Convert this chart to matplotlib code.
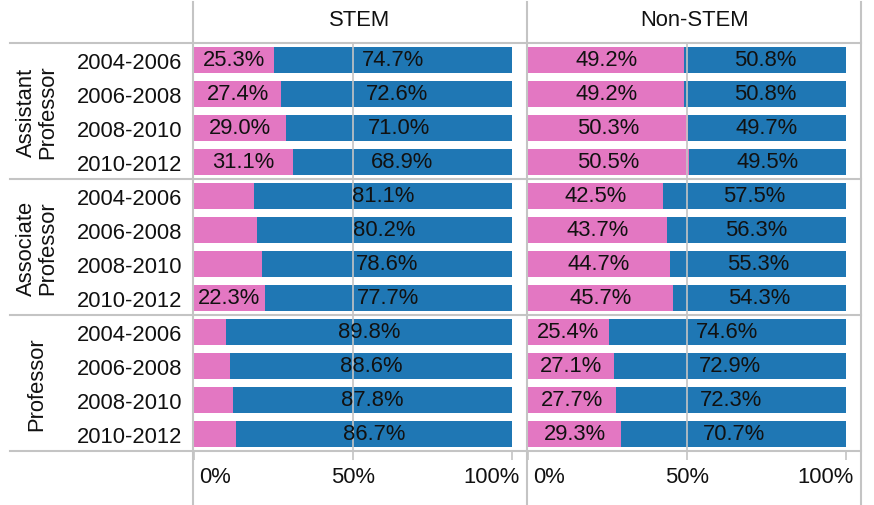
import matplotlib
import matplotlib.pyplot as plt
import matplotlib.transforms as mtransforms
from matplotlib.lines import Line2D

matplotlib.use("Agg")

plt.rcParams["font.family"] = ["Liberation Sans", "DejaVu Sans"]

# data
fields = ["STEM", "Non-STEM"]
ranks = ["Assistant\nProfessor", "Associate\nProfessor", "Professor"]
periods = ["2004-2006", "2006-2008", "2008-2010", "2010-2012"]

stem_female = [
    [25.3, 27.4, 29.0, 31.1],
    [18.9, 19.8, 21.4, 22.3],
    [10.2, 11.4, 12.2, 13.3],
]
stem_male = [
    [74.7, 72.6, 71.0, 68.9],
    [81.1, 80.2, 78.6, 77.7],
    [89.8, 88.6, 87.8, 86.7],
]
nonstem_female = [
    [49.2, 49.2, 50.3, 50.5],
    [42.5, 43.7, 44.7, 45.7],
    [25.4, 27.1, 27.7, 29.3],
]
nonstem_male = [
    [50.8, 50.8, 49.7, 49.5],
    [57.5, 56.3, 55.3, 54.3],
    [74.6, 72.9, 72.3, 70.7],
]
x_ticks = [0, 50, 100]
x_tick_labels = ["0%", "50%", "100%"]

PINK = "#e377c2"
BLUE = "#1f77b4"
LINE = "#c4c4c4"
TEXT = "#111111"
FS = 15.8

W, H = 874, 506
fig = plt.figure(figsize=(W / 100, H / 100), dpi=100)


def fx(px):
    return px / W


def fy(py):
    return 1 - py / H


panel_x = [(194, 512), (528, 846)]
row_y = [44, 180, 316, 452]
series = [(stem_female, stem_male), (nonstem_female, nonstem_male)]

for c, field in enumerate(fields):
    x0, x1 = panel_x[c]
    female_rows, male_rows = series[c]
    for r, rank in enumerate(ranks):
        top, bot = row_y[r], row_y[r + 1]
        ax = fig.add_axes([fx(x0), fy(bot), fx(x1) - fx(x0), (bot - top) / H])
        ypos = list(range(len(periods)))
        female = female_rows[r]
        male = male_rows[r]
        ax.barh(ypos, female, height=0.77, color=PINK, zorder=1)
        ax.barh(ypos, male, left=female, height=0.77, color=BLUE, zorder=1)
        for i in ypos:
            if female[i] >= 22:
                ax.text(female[i] / 2, i, f"{female[i]:.1f}%", ha="center", va="center",
                        fontsize=FS, color=TEXT, zorder=4)
            ax.text(female[i] + male[i] / 2, i, f"{male[i]:.1f}%", ha="center", va="center",
                    fontsize=FS, color=TEXT, zorder=4)
        ax.axvline(50, color=LINE, lw=1.2, zorder=3)
        ax.set_xlim(0, 100)
        ax.set_ylim(3.5, -0.5)
        for s in ax.spines.values():
            s.set_visible(False)
        if c == 0:
            ax.set_yticks(ypos)
            ax.set_yticklabels(periods, fontsize=FS, color=TEXT)
            ax.tick_params(axis="y", length=0, pad=8.5)
        else:
            ax.set_yticks([])
        if r == len(ranks) - 1:
            ax.set_xticks(x_ticks)
            ax.set_xticklabels(x_tick_labels, fontsize=FS, color=TEXT)
            ax.tick_params(axis="x", length=6.5, width=1.2, color=LINE, pad=4.5)
            labels = ax.get_xticklabels()
            labels[0].set_ha("left")
            labels[0].set_transform(labels[0].get_transform() +
                                    mtransforms.ScaledTranslation(5 / 100, 0, fig.dpi_scale_trans))
            labels[2].set_ha("right")
            labels[2].set_transform(labels[2].get_transform() +
                                    mtransforms.ScaledTranslation(8 / 100, 0, fig.dpi_scale_trans))
        else:
            ax.set_xticks([])

# headers and row labels
fig.text(fx(360), fy(20), fields[0], ha="center", va="center", fontsize=FS, color=TEXT)
fig.text(fx(694), fy(20), fields[1], ha="center", va="center", fontsize=FS, color=TEXT)
for r, rank in enumerate(ranks):
    cy = (row_y[r] + row_y[r + 1]) / 2
    fig.text(fx(37), fy(cy), rank, rotation=90, ha="center", va="center",
             multialignment="center", linespacing=1.0, fontsize=FS, color=TEXT)

# table borders
for py in row_y:
    fig.add_artist(Line2D([fx(10), fx(861)], [fy(py), fy(py)], color=LINE, lw=1.5))
for px in (193, 527, 861):
    fig.add_artist(Line2D([fx(px), fx(px)], [fy(3), fy(506)], color=LINE, lw=1.5))

fig.savefig("out.png", dpi=100)
plt.close(fig)
